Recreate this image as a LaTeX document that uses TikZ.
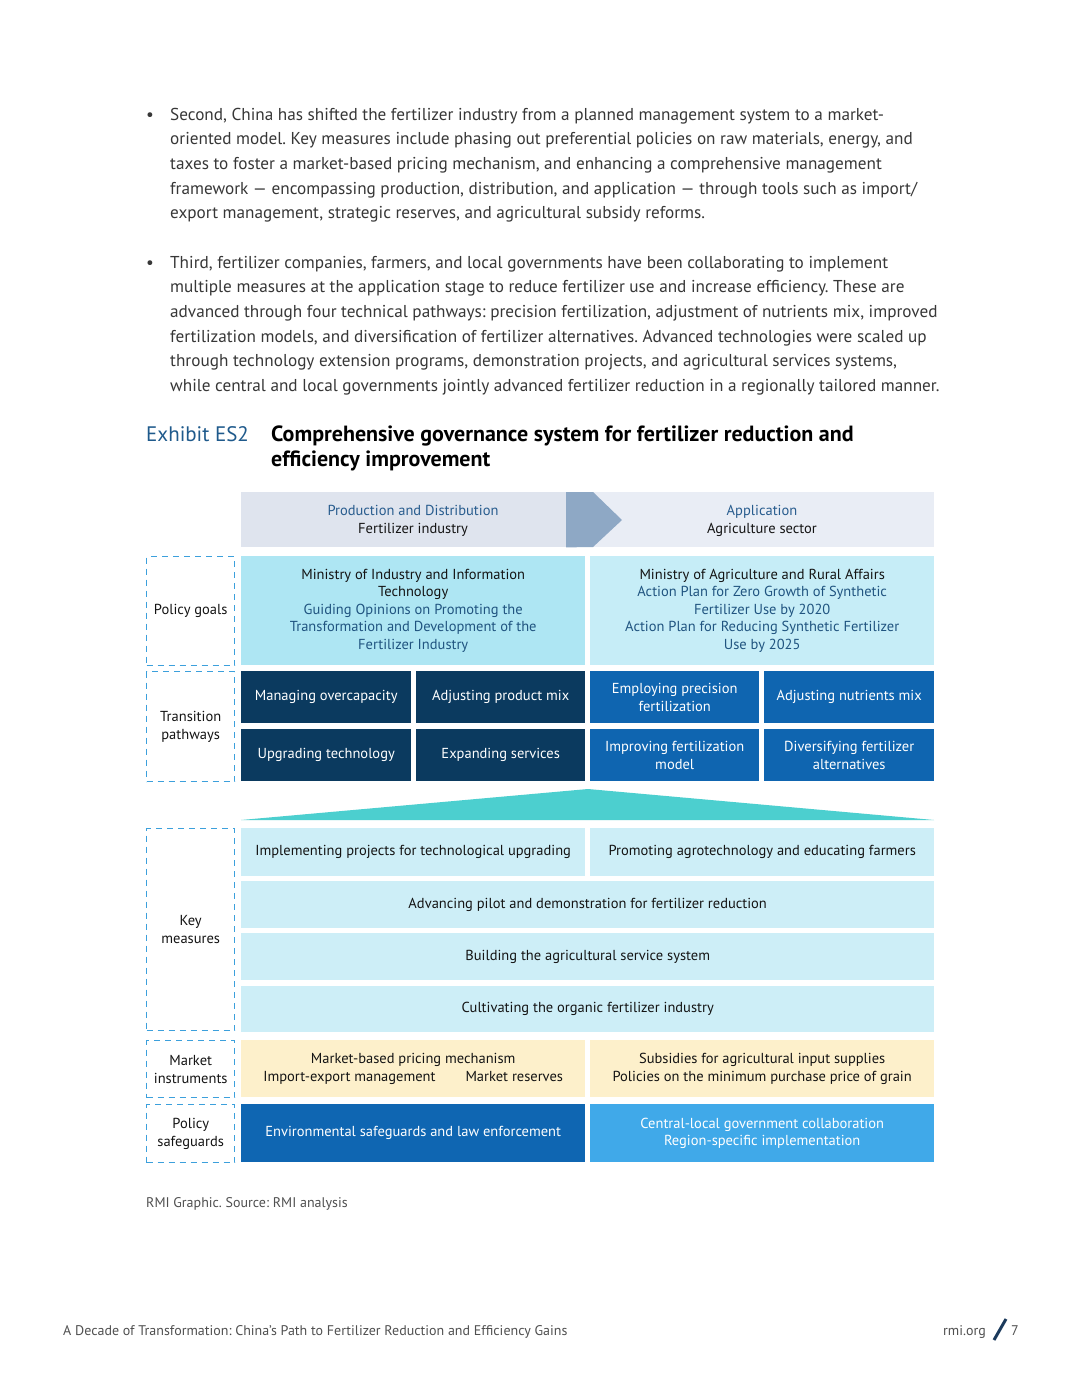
\documentclass[tikz,border=0pt]{standalone}
\usepackage{fontspec}
\setmainfont{PT Sans}
\usetikzlibrary{positioning}
\definecolor{bodygray}{RGB}{55,55,55}
\definecolor{softgray}{RGB}{80,80,80}
\definecolor{exhibitblue}{RGB}{31,90,140}
\definecolor{headl}{RGB}{223,228,238}
\definecolor{headr}{RGB}{233,237,245}
\definecolor{chev}{RGB}{142,168,197}
\definecolor{headblue}{RGB}{40,92,142}
\definecolor{goall}{RGB}{174,230,243}
\definecolor{goalr}{RGB}{198,237,247}
\definecolor{goaltxt}{RGB}{32,84,128}
\definecolor{navy}{RGB}{11,58,95}
\definecolor{pathblue}{RGB}{15,101,176}
\definecolor{tealtri}{RGB}{76,207,207}
\definecolor{measure}{RGB}{205,238,247}
\definecolor{market}{RGB}{253,240,203}
\definecolor{safel}{RGB}{15,102,178}
\definecolor{safer}{RGB}{64,169,233}
\definecolor{dashblue}{RGB}{60,160,220}
\definecolor{inkdark}{RGB}{20,20,20}
\definecolor{slashnavy}{RGB}{27,58,92}
\newcommand{\cellfont}{\fontsize{14.5}{17.6}\selectfont}
\newcommand{\parafont}{\fontsize{17.2}{24.7}\selectfont}
\frenchspacing

\begin{document}
\begin{tikzpicture}[x=1pt, y=-1pt,
    cell/.style={rectangle, inner sep=0pt, anchor=north west, align=center,
                 font=\cellfont, text=inkdark},
    tag/.style={cell, draw=dashblue, line width=1.4pt, dash pattern=on 6pt off 5pt},
    txtline/.style={anchor=base west, inner sep=0pt, font=\parafont, text=bodygray},
    small/.style={anchor=base west, inner sep=0pt, font=\fontsize{14}{16}\selectfont, text=softgray}
  ]
    \useasboundingbox (0,0) rectangle (1080,1398);
    \fill[white] (0,0) rectangle (1080,1398);

    %% BODY TEXT
    \node[txtline] (bulA) at (146,120) {\textbullet};
    \foreach \ln [count=\i] in {
        {Second, China has shifted the fertilizer industry from a planned management system to a market-},
        {oriented model. Key measures include phasing out preferential policies on raw materials, energy, and},
        {taxes to foster a market-based pricing mechanism, and enhancing a comprehensive management},
        {framework \textemdash{} encompassing production, distribution, and application \textemdash{} through tools such as import/},
        {export management, strategic reserves, and agricultural subsidy reforms.}}
      \node[txtline] (pa\i) at (170,{120+24.7*(\i-1)}) {\ln};
    \node[txtline] (bulB) at (146,268) {\textbullet};
    \foreach \ln [count=\i] in {
        {Third, fertilizer companies, farmers, and local governments have been collaborating to implement},
        {multiple measures at the application stage to reduce fertilizer use and increase efficiency. These are},
        {advanced through four technical pathways: precision fertilization, adjustment of nutrients mix, improved},
        {fertilization models, and diversification of fertilizer alternatives. Advanced technologies were scaled up},
        {through technology extension programs, demonstration projects, and agricultural services systems,},
        {while central and local governments jointly advanced fertilizer reduction in a regionally tailored manner.}}
      \node[txtline] (pb\i) at (170,{268+24.7*(\i-1)}) {\ln};

    %% EXHIBIT TITLE
    \node[txtline, font=\fontsize{21}{25}\selectfont, text=exhibitblue] (exh) at (146,441) {Exhibit ES2};
    \node[txtline, font=\fontsize{22}{25}\selectfont\bfseries, text=black] (ttlA) at (271,441)
      {Comprehensive governance system for fertilizer reduction and};
    \node[txtline, font=\fontsize{22}{25}\selectfont\bfseries, text=black] (ttlB) at (271,466)
      {efficiency improvement};

    %% HEADER BAND
    \node[cell, fill=headl, minimum width=325pt, minimum height=55pt] (headL) at (241,492) {};
    \node[cell, fill=headr, minimum width=368pt, minimum height=55pt] (headR) at (566,492) {};
    \fill[chev] (headR.north west) -- ++(27,0) -- (622,520) -- (593,547) -- (headR.south west) -- cycle;
    \node[font=\cellfont, align=center, text=inkdark] (prod) at (413,521)
      {\textcolor{headblue}{Production and Distribution}\\Fertilizer industry};
    \node[font=\cellfont, align=center, text=inkdark] (appl) at (762,521)
      {\textcolor{headblue}{Application}\\Agriculture sector};

    %% POLICY GOALS
    \node[tag, minimum width=88pt, minimum height=109pt] (tagGoal) at (146,556) {Policy goals};
    \node[cell, fill=goall, minimum width=344pt, minimum height=109pt] (goalL) at (241,556)
      {Ministry of Industry and Information\\Technology\\
       \textcolor{goaltxt}{Guiding Opinions on Promoting the}\\
       \textcolor{goaltxt}{Transformation and Development of the}\\
       \textcolor{goaltxt}{Fertilizer Industry}};
    \node[cell, fill=goalr, minimum width=344pt, minimum height=109pt] (goalR) at (590,556)
      {Ministry of Agriculture and Rural Affairs\\
       \textcolor{goaltxt}{Action Plan for Zero Growth of Synthetic}\\
       \textcolor{goaltxt}{Fertilizer Use by 2020}\\
       \textcolor{goaltxt}{Action Plan for Reducing Synthetic Fertilizer}\\
       \textcolor{goaltxt}{Use by 2025}};

    %% TRANSITION PATHWAYS
    \node[tag, minimum width=88pt, minimum height=110pt] (tagPath) at (146,671) {Transition\\pathways};
    \node[cell, fill=navy, text=white, minimum width=170pt, minimum height=52pt] (pwA) at (241,671) {Managing overcapacity};
    \node[cell, fill=navy, text=white, minimum width=169pt, minimum height=52pt] (pwB) at (416,671) {Adjusting product mix};
    \node[cell, fill=pathblue, text=white, minimum width=169pt, minimum height=52pt] (pwC) at (590,671) {Employing precision\\fertilization};
    \node[cell, fill=pathblue, text=white, minimum width=170pt, minimum height=52pt] (pwD) at (764,671) {Adjusting nutrients mix};
    \node[cell, fill=navy, text=white, minimum width=170pt, minimum height=52pt] (pwE) at (241,729) {Upgrading technology};
    \node[cell, fill=navy, text=white, minimum width=169pt, minimum height=52pt] (pwF) at (416,729) {Expanding services};
    \node[cell, fill=pathblue, text=white, minimum width=169pt, minimum height=52pt] (pwG) at (590,729) {Improving fertilization\\model};
    \node[cell, fill=pathblue, text=white, minimum width=170pt, minimum height=52pt] (pwH) at (764,729) {Diversifying fertilizer\\alternatives};

    %% TEAL WEDGE
    \fill[tealtri] (241,820) -- (588,789) -- (934,820) -- cycle;

    %% KEY MEASURES
    \node[tag, minimum width=88pt, minimum height=202pt] (tagKey) at (146,828) {Key\\measures};
    \node[cell, fill=measure, minimum width=344pt, minimum height=48pt] (kmA) at (241,828)
      {Implementing projects for technological upgrading};
    \node[cell, fill=measure, minimum width=344pt, minimum height=48pt] (kmB) at (590,828)
      {Promoting agrotechnology and educating farmers};
    \node[cell, fill=measure, minimum width=693pt, minimum height=47pt] (kmC) at (241,881)
      {Advancing pilot and demonstration for fertilizer reduction};
    \node[cell, fill=measure, minimum width=693pt, minimum height=47pt] (kmD) at (241,933)
      {Building the agricultural service system};
    \node[cell, fill=measure, minimum width=693pt, minimum height=46pt] (kmE) at (241,986)
      {Cultivating the organic fertilizer industry};

    %% MARKET INSTRUMENTS
    \node[tag, minimum width=88pt, minimum height=57pt] (tagMkt) at (146,1040) {Market\\instruments};
    \node[cell, fill=market, minimum width=344pt, minimum height=57pt] (mkL) at (241,1040)
      {Market-based pricing mechanism\\Import-export management\hspace{30pt}Market reserves};
    \node[cell, fill=market, minimum width=344pt, minimum height=57pt] (mkR) at (590,1040)
      {Subsidies for agricultural input supplies\\Policies on the minimum purchase price of grain};

    %% POLICY SAFEGUARDS
    \node[tag, minimum width=88pt, minimum height=58pt] (tagSafe) at (146,1104) {Policy\\safeguards};
    \node[cell, fill=safel, text=white, minimum width=344pt, minimum height=58pt] (sgL) at (241,1104)
      {Environmental safeguards and law enforcement};
    \node[cell, fill=safer, text=white, minimum width=344pt, minimum height=58pt] (sgR) at (590,1104)
      {Central-local government collaboration\\Region-specific implementation};

    %% CAPTION AND FOOTER
    \node[small] (src) at (146,1207) {RMI Graphic. Source: RMI analysis};
    \node[small] (foot) at (63,1335) {A Decade of Transformation: China’s Path to Fertilizer Reduction and Efficiency Gains};
    \node[small] (site) at (943,1335) {rmi.org};
    \coordinate (slashLo) at (994,1340);
    \coordinate (slashHi) at (1006,1319);
    \draw[slashnavy, line width=3pt] (slashLo) -- (slashHi);
    \node[small] (pnum) at (1011,1335) {7};
  \end{tikzpicture}
\end{document}
